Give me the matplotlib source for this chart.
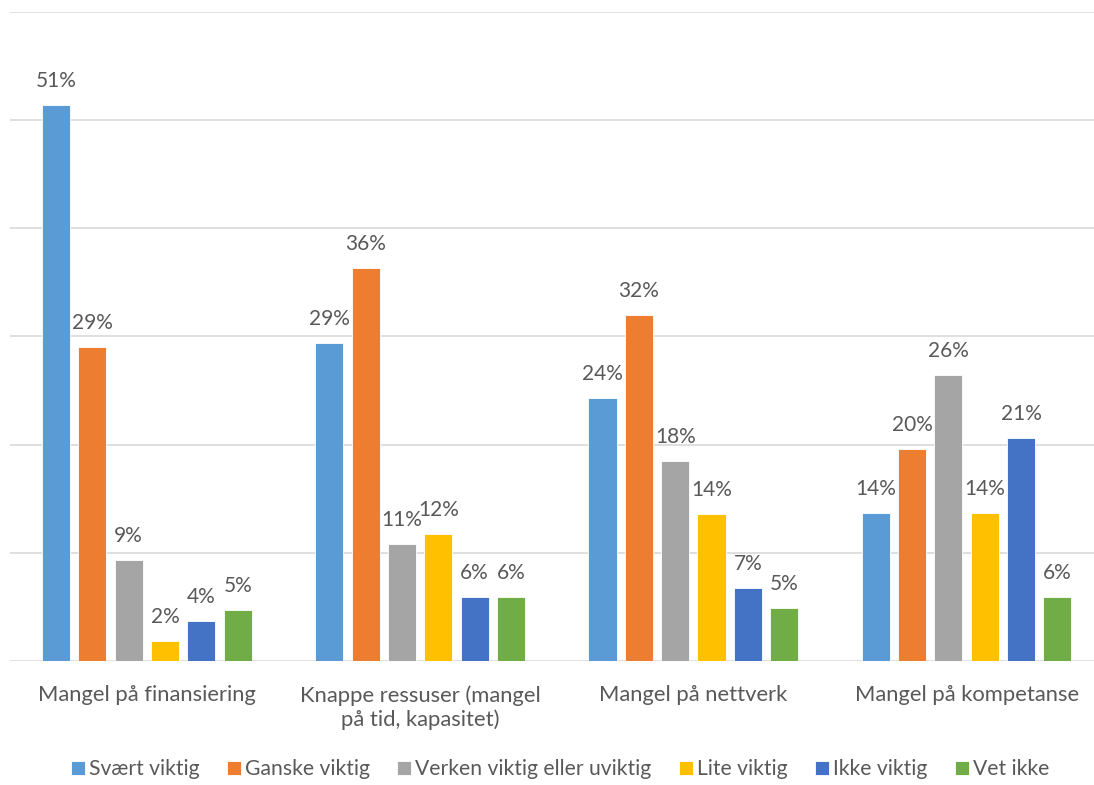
import matplotlib.pyplot as plt
import numpy as np

plt.rcParams['font.family'] = ['Lato', 'DejaVu Sans']

categories = ['Mangel på finansiering', 'Knappe ressuser (mangel\npå tid, kapasitet)',
              'Mangel på nettverk', 'Mangel på kompetanse']
series = ['Svært viktig', 'Ganske viktig', 'Verken viktig eller uviktig',
          'Lite viktig', 'Ikke viktig', 'Vet ikke']
values = [
    [51.4, 29.4, 24.3, 13.7],   # Svært viktig
    [29.0, 36.3, 32.0, 19.6],   # Ganske viktig
    [9.3, 10.8, 18.5, 26.4],    # Verken viktig eller uviktig
    [1.8, 11.7, 13.6, 13.7],    # Lite viktig
    [3.7, 5.9, 6.7, 20.6],      # Ikke viktig
    [4.7, 5.9, 4.9, 5.9],       # Vet ikke
]
colors = ['#5B9BD5', '#ED7D31', '#A5A5A5', '#FFC000', '#4472C4', '#70AD47']
text_color = '#595959'

fig = plt.figure(figsize=(10.94, 7.85), dpi=100)
ax = fig.add_axes([0.0094, 0.158, 0.999, 0.827])

x = np.arange(len(categories))
step = 0.133
width = 0.103
for i, (name, vals) in enumerate(zip(series, values)):
    pos = x + (i - 2.5) * step
    bars = ax.bar(pos, vals, width, color=colors[i], label=name, zorder=3,
                  edgecolor='white', linewidth=0.6)
    for b, v in zip(bars, vals):
        ax.text(b.get_x() + b.get_width() / 2, v + 1.3, f'{v:.0f}%',
                ha='center', va='bottom', fontsize=15, color=text_color)

ax.set_xlim(-0.5, 3.5)
ax.set_ylim(0, 60)
ax.set_yticks(np.arange(0, 61, 10))
ax.yaxis.grid(True, color='#D9D9D9', linewidth=1.2, zorder=0)
ax.tick_params(axis='y', left=False, labelleft=False)
ax.tick_params(axis='x', bottom=False, pad=14)
ax.set_xticks(x)
ax.set_xticklabels(categories, fontsize=15.8, color=text_color, linespacing=1.2)
for s in ax.spines.values():
    s.set_visible(False)

fig.legend(loc='lower center', bbox_to_anchor=(0.512, -0.017), ncol=6, frameon=False,
           fontsize=15.2, labelcolor=text_color, handlelength=0.65, handleheight=0.65,
           handletextpad=0.2, columnspacing=1.3)

fig.savefig('out.png', dpi=100)
